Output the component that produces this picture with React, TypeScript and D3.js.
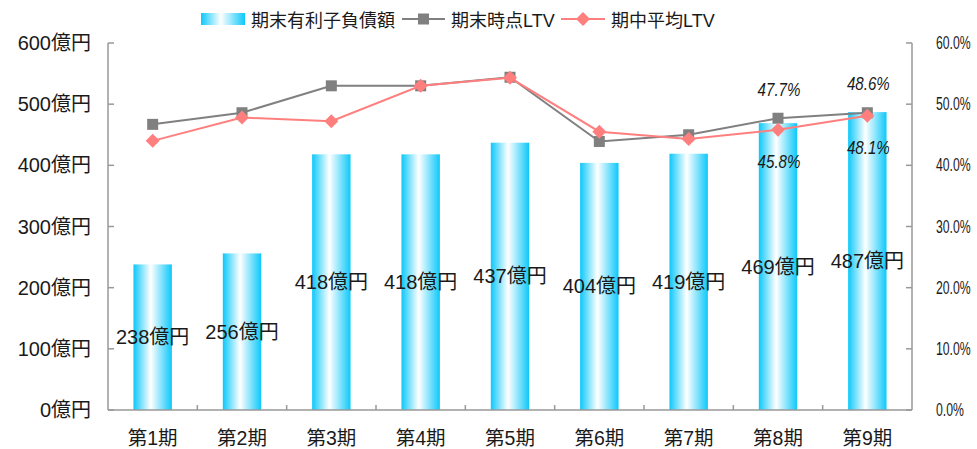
import React from "react";
import * as d3 from "d3";

const categories = ["第1期", "第2期", "第3期", "第4期", "第5期", "第6期", "第7期", "第8期", "第9期"];
const debt = [238, 256, 418, 418, 437, 404, 419, 469, 487];
const ltvEnd = [46.7, 48.6, 53.0, 53.0, 54.4, 43.9, 45.0, 47.7, 48.6];
const ltvAvg = [44.0, 47.8, 47.2, 53.0, 54.3, 45.5, 44.3, 45.8, 48.1];
const leftTicks = [0, 100, 200, 300, 400, 500, 600];
const rightTicks = [0, 10, 20, 30, 40, 50, 60];
const seriesNames = ["期末有利子負債額", "期末時点LTV", "期中平均LTV"];
const endLabelIdx = [7, 8];

const W = 977, H = 449;
const L = 108, R = 912, T = 43, B = 410;
const MIX = "'Liberation Sans', 'Noto Sans CJK JP', sans-serif";
const CJK = "'Noto Sans CJK JP', 'Noto Sans', sans-serif";
const LAT = "'Liberation Sans', Arial, sans-serif";
const GRAY = "#808080";
const PINK = "#FF7F7F";
const AXIS = "#999999";
const TXT = "#1a1a1a";

export default function App() {
  const x = d3.scaleBand().domain(categories).range([L, R]).paddingInner(0).paddingOuter(0);
  const yL = d3.scaleLinear().domain([0, 600]).range([B, T]);
  const yR = d3.scaleLinear().domain([0, 60]).range([B, T]);
  const cx = (i: number) => (x(categories[i]) as number) + x.bandwidth() / 2;
  const barW = x.bandwidth() * 0.43;
  const line = d3.line<number>().x((_, i) => cx(i)).y((v) => yR(v));

  const diamond = (px: number, py: number, s: number) =>
    `M${px},${py - s}L${px + s},${py}L${px},${py + s}L${px - s},${py}Z`;

  return (
    <svg width={W} height={H} style={{ position: "absolute", left: 0, top: 0 }}>
      <defs>
        <linearGradient id="barGrad" x1="0" x2="1" y1="0" y2="0">
          <stop offset="0%" stopColor="#0CC8FA" />
          <stop offset="45%" stopColor="#FFFFFF" />
          <stop offset="100%" stopColor="#0CC8FA" />
        </linearGradient>
      </defs>
      <rect x={0} y={0} width={W} height={H} fill="#fff" />

      {/* bars */}
      {debt.map((v, i) => (
        <rect key={"b" + i} x={cx(i) - barW / 2} y={yL(v)} width={barW} height={B - yL(v)} fill="url(#barGrad)" />
      ))}

      {/* axes */}
      <line x1={L} x2={L} y1={T} y2={B} stroke={AXIS} strokeWidth={1.5} />
      <line x1={R} x2={R} y1={T} y2={B} stroke={AXIS} strokeWidth={1.5} />
      <line x1={L} x2={R} y1={B} y2={B} stroke={AXIS} strokeWidth={1.5} />
      {leftTicks.map((t) => (
        <g key={"lt" + t}>
          <line x1={L} x2={L + 6} y1={yL(t)} y2={yL(t)} stroke={AXIS} strokeWidth={1.5} />
          <text x={91} y={yL(t)} dy="0.35em" textAnchor="end" fontFamily={MIX} fontSize={20} fill={TXT}>
            {t}億円
          </text>
        </g>
      ))}
      {rightTicks.map((t) => (
        <g key={"rt" + t}>
          <line x1={R - 6} x2={R} y1={yR(t)} y2={yR(t)} stroke={AXIS} strokeWidth={1.5} />
          <text transform={`translate(936,${yR(t)}) scale(0.7,1)`} dy="0.35em" textAnchor="start" fontFamily={LAT}
            fontSize={17.5} fill={TXT}>
            {t.toFixed(1)}%
          </text>
        </g>
      ))}
      {categories.map((c, i) => (
        <g key={"c" + i}>
          {i > 0 && (
            <line x1={x(c) as number} x2={x(c) as number} y1={B} y2={B - 5} stroke={AXIS} strokeWidth={1.5} />
          )}
          <text x={cx(i)} y={438} dy="0.35em" textAnchor="middle" fontFamily={MIX} fontSize={19.5} fill={TXT}>
            {c}
          </text>
        </g>
      ))}

      {/* bar labels */}
      {debt.map((v, i) => (
        <text key={"bl" + i} x={cx(i)} y={yL(v / 2)} dy="0.35em" textAnchor="middle" fontFamily={MIX} fontSize={20} fill={TXT}>
          {v}億円
        </text>
      ))}

      {/* lines */}
      <path d={line(ltvEnd) as string} fill="none" stroke={GRAY} strokeWidth={2} />
      {ltvEnd.map((v, i) => (
        <rect key={"sq" + i} x={cx(i) - 5.5} y={yR(v) - 5.5} width={11} height={11} fill={GRAY} />
      ))}
      <path d={line(ltvAvg) as string} fill="none" stroke={PINK} strokeWidth={2} />
      {ltvAvg.map((v, i) => (
        <path key={"dm" + i} d={diamond(cx(i), yR(v), 7)} fill={PINK} />
      ))}

      {/* LTV labels */}
      {endLabelIdx.map((i) => (
        <g key={"ll" + i}>
          <text transform={`translate(${cx(i) + 1},${yR(ltvEnd[i]) - 29}) scale(0.84,1)`} dy="0.35em" textAnchor="middle"
            fontFamily={LAT} fontStyle="italic" fontSize={18} fill={TXT}>
            {ltvEnd[i].toFixed(1)}%
          </text>
          <text transform={`translate(${cx(i) + 1},${yR(ltvAvg[i]) + 32}) scale(0.84,1)`} dy="0.35em" textAnchor="middle"
            fontFamily={LAT} fontStyle="italic" fontSize={18} fill={TXT}>
            {ltvAvg[i].toFixed(1)}%
          </text>
        </g>
      ))}

      {/* legend */}
      <rect x={201} y={13} width={44} height={12} fill="url(#barGrad)" />
      <text x={251} y={20.5} dy="0.35em" fontFamily={CJK} fontSize={18} fill={TXT}>{seriesNames[0]}</text>
      <line x1={402} x2={445} y1={19} y2={19} stroke={GRAY} strokeWidth={2} />
      <rect x={418} y={13.5} width={11} height={11} fill={GRAY} />
      <text x={451} y={20.5} dy="0.35em" fontFamily={MIX} fontSize={18} fill={TXT}>{seriesNames[1]}</text>
      <line x1={561} x2={605} y1={19} y2={19} stroke={PINK} strokeWidth={2} />
      <path d={diamond(583, 19, 7)} fill={PINK} />
      <text x={611} y={20.5} dy="0.35em" fontFamily={MIX} fontSize={18} fill={TXT}>{seriesNames[2]}</text>
    </svg>
  );
}
